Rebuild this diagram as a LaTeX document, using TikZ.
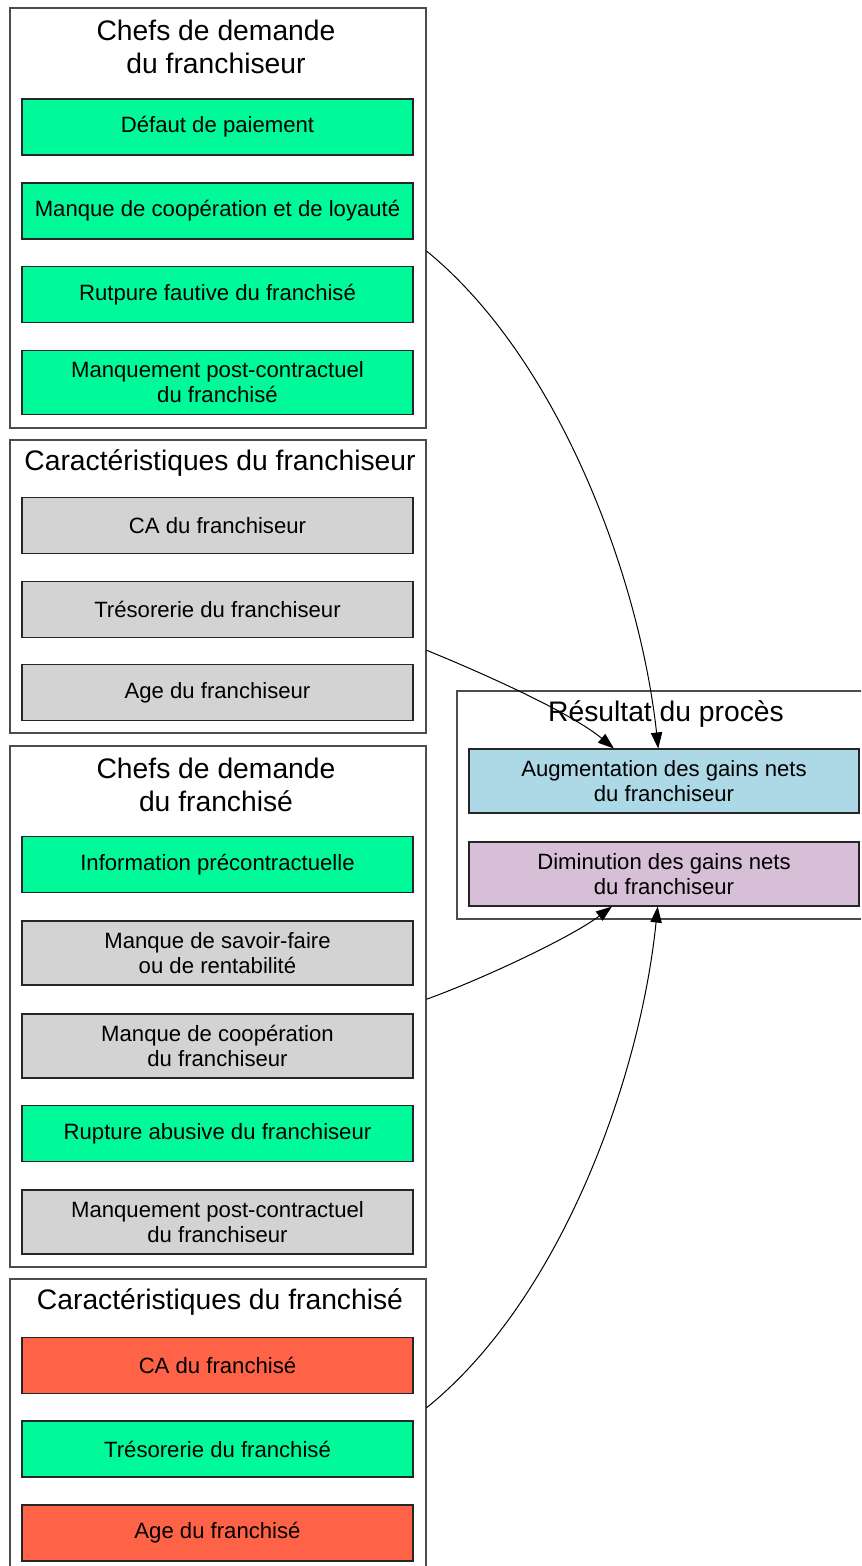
\documentclass[tikz,border=0pt]{standalone}
\usepackage{fontspec}
\setmainfont{Liberation Sans}
\usetikzlibrary{arrows.meta}
\definecolor{cgreen}{HTML}{00FA9A}
\definecolor{cgrey}{HTML}{D3D3D3}
\definecolor{ctomato}{HTML}{FF6347}
\definecolor{cblue}{HTML}{ADD8E6}
\definecolor{cthistle}{HTML}{D8BFD8}
\begin{document}
\begin{tikzpicture}[x=0.75pt,y=-0.75pt,
  cluster/.style={draw=black!70,line width=0.8pt,rectangle,inner sep=0pt},
  ctitle/.style={align=center,font=\fontsize{21.2}{24.8}\selectfont,inner sep=0pt},
  box/.style={draw=black!85,line width=0.8pt,rectangle,inner sep=0pt,align=center,
    minimum width=293.25pt,font=\fontsize{16.6}{18.75}\selectfont},
  one/.style={box,minimum height=42pt},
  two/.style={box,minimum height=48pt},
  edge/.style={line width=0.75pt,-{Triangle[length=12pt,width=8.5pt]}}]
\useasboundingbox (0,0) rectangle (861,1566);
\clip (0,0) rectangle (861,1566);
% clusters
\node[cluster,minimum width=312pt,minimum height=315pt] (cA) at (218,218) {};
\node[cluster,minimum width=312pt,minimum height=219.75pt] (cB) at (218,586.5) {};
\node[cluster,minimum width=312pt,minimum height=390.75pt] (cC) at (218,1006.5) {};
\node[cluster,minimum width=312pt,minimum height=220.5pt] (cD) at (218,1426) {};
\node[cluster,minimum width=310.5pt,minimum height=171pt] (cE) at (664,805) {};
% titles
\node[ctitle] (tA) at (216,47) {Chefs de demande\\du franchiseur};
\node[ctitle] (tB) at (220,463) {Caractéristiques du franchiseur};
\node[ctitle] (tC) at (216,785) {Chefs de demande\\du franchisé};
\node[ctitle] (tD) at (220,1302) {Caractéristiques du franchisé};
\node[ctitle] (tE) at (666,714) {Résultat du procès};
% cluster A
\node[one,fill=cgreen] (a1) at (217.5,127) {Défaut de paiement};
\node[one,fill=cgreen] (a2) at (217.5,211) {Manque de coopération et de loyauté};
\node[one,fill=cgreen] (a3) at (217.5,294.5) {Rutpure fautive du franchisé};
\node[two,fill=cgreen] (a4) at (217.5,382.5) {Manquement post-contractuel\\du franchisé};
% cluster B
\node[one,fill=cgrey] (b1) at (217.5,525.5) {CA du franchiseur};
\node[one,fill=cgrey] (b2) at (217.5,609.5) {Trésorerie du franchiseur};
\node[one,fill=cgrey] (b3) at (217.5,692.5) {Age du franchiseur};
% cluster C
\node[one,fill=cgreen] (c1) at (217.5,864.5) {Information précontractuelle};
\node[two,fill=cgrey] (c2) at (217.5,953) {Manque de savoir-faire\\ou de rentabilité};
\node[two,fill=cgrey] (c3) at (217.5,1046) {Manque de coopération\\du franchiseur};
\node[one,fill=cgreen] (c4) at (217.5,1133.5) {Rupture abusive du franchiseur};
\node[two,fill=cgrey] (c5) at (217.5,1222) {Manquement post-contractuel\\du franchiseur};
% cluster D
\node[one,fill=ctomato] (d1) at (217.5,1365.5) {CA du franchisé};
\node[one,fill=cgreen] (d2) at (217.5,1449) {Trésorerie du franchisé};
\node[one,fill=ctomato] (d3) at (217.5,1533) {Age du franchisé};
% cluster E
\node[two,fill=cblue,minimum width=292.5pt] (e1) at (664,781) {Augmentation des gains nets\\du franchiseur};
\node[two,fill=cthistle,minimum width=292.5pt] (e2) at (664,874) {Diminution des gains nets\\du franchiseur};
% edges
\draw[edge] (cA.-9.55) .. controls (560,360) and (640,580) .. (e1.100.6);
\draw[edge] (cB.-17.5) .. controls (480,672) and (570,712) .. (e1.147.9);
\draw[edge] (cC.2.3) .. controls (480,980) and (570,938) .. (e2.212.1);
\draw[edge] (cD.5.2) .. controls (560,1300) and (640,1080) .. (e2.259.4);
\end{tikzpicture}
\end{document}
